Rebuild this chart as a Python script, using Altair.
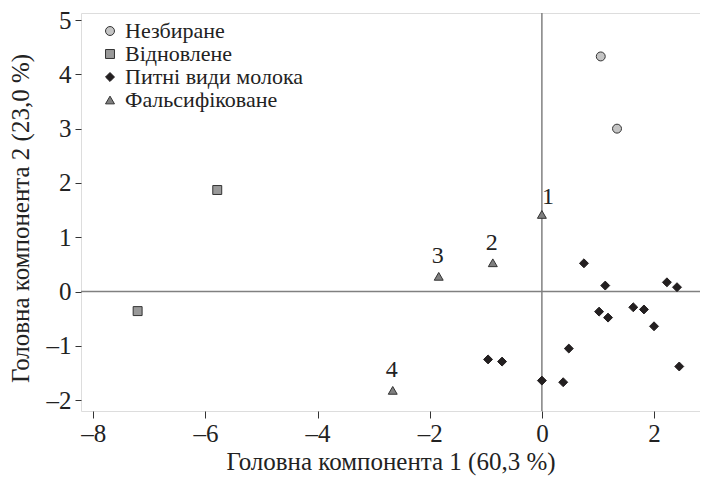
import altair as alt
import pandas as pd

groups = ["Незбиране", "Відновлене", "Питні види молока", "Фальсифіковане"]

whole_x = [1.05, 1.34]
whole_y = [4.33, 3.00]

recon_x = [-5.79, -7.21]
recon_y = [1.87, -0.36]

drink_x = [0.75, 1.13, 2.23, 2.41, 1.02, 1.18, 1.63, 1.82, 2.00, 0.48, 2.45, 0.38, -0.96, -0.71, 0.00]
drink_y = [0.52, 0.11, 0.17, 0.08, -0.37, -0.48, -0.29, -0.33, -0.64, -1.05, -1.38, -1.67, -1.25, -1.29, -1.64]

fake_x = [0.00, -0.875, -1.84, -2.66]
fake_y = [1.42, 0.53, 0.28, -1.82]
fake_labels = ["1", "2", "3", "4"]

rows = []
for g, xs, ys in [(groups[0], whole_x, whole_y), (groups[1], recon_x, recon_y),
                  (groups[2], drink_x, drink_y), (groups[3], fake_x, fake_y)]:
    for a, b in zip(xs, ys):
        rows.append({"x": a, "y": b, "group": g})
df = pd.DataFrame(rows)
lab = pd.DataFrame({"x": fake_x, "y": fake_y, "label": fake_labels})

FONT = "Liberation Serif"
XDOM = [-8.22, 2.82]
YDOM = [-2.2, 5.13]
label_expr = "datum.value < 0 ? '–' + format(-datum.value, 'd') : format(datum.value, 'd')"

xscale = alt.Scale(domain=XDOM, nice=False, zero=False)
yscale = alt.Scale(domain=YDOM, nice=False, zero=False)

xaxis = alt.Axis(values=[-8, -6, -4, -2, 0, 2], labelExpr=label_expr, title="Головна компонента 1 (60,3 %)",
                 grid=False, domain=False, tickSize=7, tickColor="#333", labelPadding=3,
                 labelFontSize=25, titleFontSize=25, labelFont=FONT, titleFont=FONT,
                 labelColor="#222", titleColor="#222", titleFontWeight="normal",
                 titleY=58, titleBaseline="alphabetic")
yaxis = alt.Axis(values=[-2, -1, 0, 1, 2, 3, 4, 5], labelExpr=label_expr, title="Головна компонента 2 (23,0 %)",
                 grid=False, domain=False, tickSize=6, tickColor="#333", labelPadding=4,
                 labelFontSize=25, titleFontSize=25, labelFont=FONT, titleFont=FONT,
                 labelColor="#222", titleColor="#222", titleFontWeight="normal",
                 titleX=-61, titleY=205, titleBaseline="middle", titleAlign="center", titleAngle=270)

hline = alt.Chart(pd.DataFrame({"y": [0]})).mark_rule(color="#808080", strokeWidth=1.5).encode(
    y=alt.Y("y:Q", scale=yscale, axis=yaxis))
vline = alt.Chart(pd.DataFrame({"x": [0]})).mark_rule(color="#808080", strokeWidth=1.5).encode(
    x=alt.X("x:Q", scale=xscale, axis=xaxis))

points = alt.Chart(df).mark_point(filled=True, opacity=1, strokeWidth=1).encode(
    x=alt.X("x:Q", scale=xscale, axis=xaxis),
    y=alt.Y("y:Q", scale=yscale, axis=yaxis),
    shape=alt.Shape("group:N", scale=alt.Scale(domain=groups, range=["circle", "square", "diamond", "triangle-up"]),
                    legend=alt.Legend(title=None, orient="none", legendX=18, legendY=7,
                                      labelFont=FONT, labelFontSize=22, labelColor="#222", labelLimit=0,
                                      rowPadding=1, labelOffset=4, symbolStrokeWidth=1)),
    fill=alt.Fill("group:N", scale=alt.Scale(domain=groups, range=["#c4c4c4", "#999999", "#231f20", "#7f7f7f"])),
    stroke=alt.Stroke("group:N", scale=alt.Scale(domain=groups, range=["#333333", "#333333", "#231f20", "#333333"])),
    size=alt.Size("group:N", scale=alt.Scale(domain=groups, range=[80, 80, 190, 150])),
)

text1 = alt.Chart(lab).transform_filter("datum.label == '1'").mark_text(
    font=FONT, fontSize=24, color="#222", dx=6, dy=-17).encode(
    x=alt.X("x:Q", scale=xscale, axis=xaxis), y=alt.Y("y:Q", scale=yscale, axis=yaxis), text="label:N")
text2 = alt.Chart(lab).transform_filter("datum.label != '1'").mark_text(
    font=FONT, fontSize=24, color="#222", dx=-1, dy=-20).encode(
    x=alt.X("x:Q", scale=xscale, axis=xaxis), y=alt.Y("y:Q", scale=yscale, axis=yaxis), text="label:N")

chart = alt.layer(hline, vline, points, text1, text2).properties(
    width=619, height=398,
    autosize=alt.AutoSizeParams(type="none"),
    padding={"left": 73, "top": 5, "right": 0, "bottom": 65},
).configure_view(stroke="#333333", strokeWidth=1.2).configure(background="white", font=FONT)

chart.save("out.html", embed_options={"renderer": "svg", "actions": False})
